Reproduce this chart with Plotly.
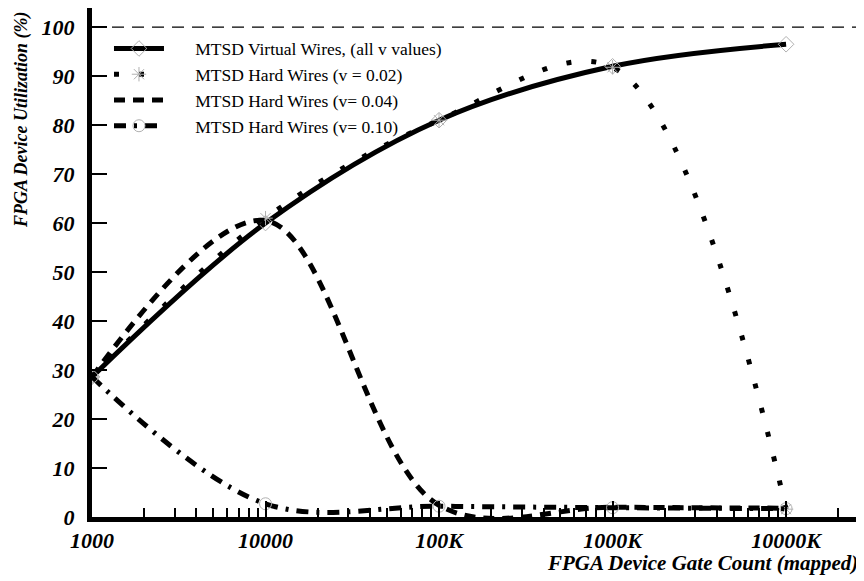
import plotly.graph_objects as go

# ---- data ----
gates = [1e3, 1e4, 1e5, 1e6, 1e7]
virtual_wires = [28.6, 60.0, 81.0, 92.0, 96.5]
hard_v002 = [28.6, 61.0, 81.0, 91.8, 1.6]
hard_v004 = [28.6, 60.5, 2.4, 2.0, 1.8]
hard_v010 = [28.6, 2.7, 2.2, 1.9, 1.7]
series_names = [
    "MTSD Virtual Wires, (all v values)",
    "MTSD Hard Wires (v = 0.02)",
    "MTSD Hard Wires (v= 0.04)",
    "MTSD Hard Wires (v= 0.10)",
]
x_tick_vals = [1e3, 1e4, 1e5, 1e6, 1e7]
x_tick_text = ["1000", "10000", "100K", "1000K", "10000K"]
x_minor_vals = [m * 10 ** e for e in range(3, 8) for m in range(2, 10)]
y_tick_vals = [0, 10, 20, 30, 40, 50, 60, 70, 80, 90, 100]
full_utilization = 100
x_title = "FPGA Device Gate Count (mapped)"
y_title = "FPGA Device Utilization (%)"

FONT = "Liberation Serif"
bold_it = dict(family=FONT, size=22, color="black", weight="bold", style="italic")
mk_col = "#b0b0b0"
gap = "\u00a0" * 6  # space between legend sample and its text

fig = go.Figure()
fig.add_trace(go.Scatter(
    x=gates, y=virtual_wires, name=gap + series_names[0], mode="lines+markers",
    line=dict(color="black", width=5, shape="spline", smoothing=1),
    marker=dict(symbol="diamond-open", size=12, color=mk_col, line=dict(width=1, color=mk_col)),
))
fig.add_trace(go.Scatter(
    x=gates, y=hard_v002, name=gap + series_names[1], mode="lines+markers",
    line=dict(color="black", width=5, shape="spline", smoothing=1, dash="5px,20px"),
    marker=dict(symbol="asterisk-open", size=12, color=mk_col, line=dict(width=1, color=mk_col)),
))
fig.add_trace(go.Scatter(
    x=gates, y=hard_v004, name=gap + series_names[2], mode="lines",
    line=dict(color="black", width=5, shape="spline", smoothing=1, dash="11px,8px"),
))
fig.add_trace(go.Scatter(
    x=gates, y=hard_v010, name=gap + series_names[3], mode="lines+markers",
    line=dict(color="black", width=5, shape="spline", smoothing=1, dash="12px,8px,3px,8px"),
    marker=dict(symbol="circle-open", size=12, color=mk_col, line=dict(width=1, color=mk_col)),
))

fig.add_shape(type="line", xref="paper", x0=0, x1=1, yref="y", y0=full_utilization, y1=full_utilization,
              line=dict(color="black", width=1.3, dash="12px,8px"), layer="below")

fig.add_annotation(text=y_title, xref="paper", yref="paper", x=-0.0907, y=0.780,
                   textangle=-90, showarrow=False, font=dict(bold_it, size=18),
                   xanchor="center", yanchor="middle")
fig.add_annotation(text=x_title, xref="paper", yref="paper", x=0.5868, y=-0.0904,
                   showarrow=False, font=dict(bold_it, size=21),
                   xanchor="left", yanchor="middle")

# the page body adds an 8px offset, so the figure is sized to the visible area
fig.update_layout(
    width=856, height=573,
    margin=dict(l=84, r=0, t=0, b=64),
    paper_bgcolor="white", plot_bgcolor="white",
    showlegend=True,
    legend=dict(x=0.022, y=0.9556, xanchor="left", yanchor="top",
                bgcolor="rgba(0,0,0,0)", font=dict(family=FONT, size=17.5, color="black"),
                itemwidth=50, tracegroupgap=0),
    xaxis=dict(type="log", range=[3, 7.449], showline=True, linewidth=5, linecolor="black",
               ticks="inside", ticklen=16, tickwidth=1.5, tickcolor="black",
               tickmode="array", tickvals=x_tick_vals, ticktext=x_tick_text,
               tickfont=bold_it, showgrid=False, zeroline=False,
               minor=dict(ticks="inside", ticklen=9, tickwidth=1.5, tickcolor="black",
                          tickmode="array", tickvals=x_minor_vals, showgrid=False)),
    yaxis=dict(range=[0, 103.9], showline=True, linewidth=5, linecolor="black",
               ticks="inside", ticklen=15, tickwidth=1.5, tickcolor="black",
               tickmode="array", tickvals=y_tick_vals, tickfont=bold_it,
               ticklabelstandoff=8,
               showgrid=False, zeroline=False),
)

fig.write_html("out.html")
